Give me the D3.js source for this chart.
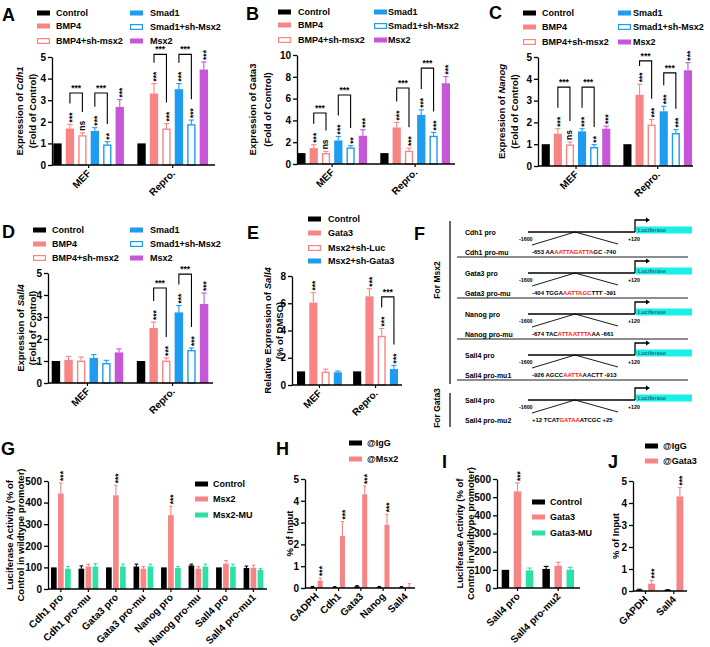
<!DOCTYPE html>
<html><head><meta charset="utf-8">
<script src="https://cdn.jsdelivr.net/npm/d3@7"></script>
<style>
body{margin:0;background:#fff}
svg{display:block}
text{font-family:"Liberation Sans",Arial,sans-serif;font-weight:bold;fill:#000}
</style>
</head><body>
<svg id="fig" width="710" height="647"></svg>
<script>
// ---------------- DATA ----------------
const groupsAD = ["MEF", "Repro."];
const seriesAD = ["Control", "BMP4", "BMP4+sh-msx2", "Smad1", "Smad1+sh-Msx2", "Msx2"];

const cdh1Mean = [[1, 1.69, 1.38, 1.58, 0.95, 2.69], [1, 3.31, 1.69, 3.51, 1.89, 4.42]];
const cdh1Err  = [[0, 0.19, 0.11, 0.15, 0.13, 0.34], [0, 0.46, 0.23, 0.26, 0.19, 0.35]];
const cdh1Sig  = [["", "***", "ns", "***", "**", "***"], ["", "***", "***", "***", "***", "***"]];
const cdh1Brackets = [[0, 1, 2, 3.33], [0, 3, 4, 3.33], [1, 1, 2, 5.12], [1, 3, 4, 5.12]];
const cdh1Ticks = [0, 1, 2, 3, 4, 5];

const gata3Mean = [[1, 1.46, 1.0, 2.16, 1.52, 2.59], [1, 3.35, 1.22, 4.51, 2.59, 7.41]];
const gata3Err  = [[0, 0.31, 0.16, 0.37, 0.16, 0.55], [0, 0.46, 0.24, 0.46, 0.31, 0.61]];
const gata3Sig  = [["", "***", "ns", "***", "**", "***"], ["", "***", "***", "***", "***", "***"]];
const gata3Brackets = [[0, 1, 2, 4.68], [0, 3, 4, 6.33], [1, 1, 2, 6.97], [1, 3, 4, 8.8]];
const gata3Ticks = [0, 2, 4, 6, 8, 10];

const nanogMean = [[1, 1.48, 0.99, 1.59, 0.87, 1.71], [1, 3.27, 1.9, 2.51, 1.51, 4.39]];
const nanogErr  = [[0, 0.23, 0.11, 0.12, 0.11, 0.12], [0, 0.48, 0.23, 0.23, 0.16, 0.35]];
const nanogSig  = [["", "***", "ns", "***", "**", "***"], ["", "***", "***", "***", "***", "***"]];
const nanogBrackets = [[0, 1, 2, 3.62], [0, 3, 4, 3.62], [1, 1, 2, 4.82], [1, 3, 4, 4.27]];
const nanogTicks = [0, 1, 2, 3, 4, 5];

const sall4Mean = [[1, 1.05, 1.02, 1.14, 0.91, 1.39], [1, 2.5, 1.02, 3.21, 1.5, 3.59]];
const sall4Err  = [[0, 0.16, 0.16, 0.15, 0.12, 0.16], [0, 0.27, 0.12, 0.31, 0.09, 0.5]];
const sall4Sig  = [["", "", "", "", "", ""], ["", "***", "***", "***", "***", "***"]];
const sall4Brackets = [[1, 1, 2, 4.32], [1, 3, 4, 4.95]];
const sall4Ticks = [0, 1, 2, 3, 4, 5];

const groupsE = ["MEF", "Repro."];
const seriesE = ["Control", "Gata3", "Msx2+sh-Luc", "Msx2+sh-Gata3"];
const eMean = [[1, 6.05, 0.98, 0.93], [1, 6.51, 3.61, 1.17]];
const eErr  = [[0, 0.73, 0.19, 0.09], [0, 0.56, 0.54, 0.27]];
const eSig  = [["", "***", "", ""], ["", "***", "***", "***"]];
const eBrackets = [[1, 2, 3, 6.47]];
const eTicks = [0, 2, 4, 6, 8];

const groupsG = ["Cdh1 pro", "Cdh1 pro-mu", "Gata3 pro", "Gata3 pro-mu", "Nanog pro", "Nanog pro-mu", "Sall4 pro", "Sall4 pro-mu1"];
const seriesG = ["Control", "Msx2", "Msx2-MU"];
const gMean = [[100, 442, 94], [94, 104, 104], [100, 434, 104], [104, 94, 104], [100, 342, 97], [109, 94, 104], [100, 117, 104], [97, 98, 88]];
const gErr  = [[0, 49, 10], [13, 11, 13], [0, 46, 11], [11, 10, 11], [0, 41, 7], [6, 10, 11], [0, 15, 11], [9, 12, 7]];
const gSig  = [["", "***", ""], ["", "", ""], ["", "***", ""], ["", "", ""], ["", "***", ""], ["", "", ""], ["", "", ""], ["", "", ""]];
const gTicks = [0, 100, 200, 300, 400, 500];

const groupsH = ["GADPH", "Cdh1", "Gata3", "Nanog", "Sall4"];
const seriesH = ["@IgG", "@Msx2"];
const hMean = [[0.05, 0.34], [0.04, 2.39], [0.08, 4.3], [0.05, 2.9], [0.04, 0.05]];
const hErr  = [[0.02, 0.12], [0.02, 0.66], [0.03, 0.38], [0.02, 0.48], [0.02, 0.15]];
const hSig  = [["", "***"], ["", "***"], ["", "***"], ["", "***"], ["", ""]];
const hTicks = [0, 1, 2, 3, 4, 5];

const groupsI = ["Sall4 pro", "Sall4 pro-mu2"];
const seriesI = ["Control", "Gata3", "Gata3-MU"];
const iMean = [[100, 532, 97], [105, 123, 101]];
const iErr  = [[0, 46, 13], [14, 18, 13]];
const iSig  = [["", "***", ""], ["", "", ""]];
const iTicks = [0, 100, 200, 300, 400, 500, 600];

const groupsJ = ["GAPDH", "Sall4"];
const seriesJ = ["@IgG", "@Gata3"];
const jMean = [[0.06, 0.33], [0.05, 4.3]];
const jErr  = [[0.02, 0.15], [0.01, 0.4]];
const jSig  = [["", "***"], ["", "***"]];
const jTicks = [0, 1, 2, 3, 4, 5];

// promoter diagram (panel F)
const fPro  = ["Cdh1 pro", "Gata3 pro", "Nanog pro", "Sall4 pro", "Sall4 pro"];
const fMu   = ["Cdh1 pro-mu", "Gata3 pro-mu", "Nanog pro-mu", "Sall4 pro-mu1", "Sall4 pro-mu2"];
const fPre  = ["-653 AA", "-404 TGGA", "-674 TAC", "-926 AGCC", "+12 TCAT"];
const fSite = ["AATTAGATTA", "AATTAGC", "ATTAATTTA", "AATTA", "GATAA"];
const fPost = ["GC -740", "TTT -391", "AA -661", "AACTT -913", "ATCGC +25"];
const fStart = "-1600", fEnd = "+120", fReporter = "Luciferase";
const fGroupLabels = ["For Msx2", "For Gata3"];

// ---------------- STYLES ----------------
const BLACK = "#000000", SALMON = "#f88585", BLUE = "#1e9cf0", PURPLE = "#c756d9", MINT = "#2de0a6";
const stylesAD = [{c: BLACK, f: 1}, {c: SALMON, f: 1}, {c: SALMON, f: 0}, {c: BLUE, f: 1}, {c: BLUE, f: 0}, {c: PURPLE, f: 1}];
const stylesE = [{c: BLACK, f: 1}, {c: SALMON, f: 1}, {c: SALMON, f: 0}, {c: BLUE, f: 1}];
const stylesGI = [{c: BLACK, f: 1}, {c: SALMON, f: 1}, {c: MINT, f: 1}];
const stylesHJ = [{c: BLACK, f: 1}, {c: SALMON, f: 1}];

const svg = d3.select("#fig");

function letter(t, x, y) {
  svg.append("text").attr("x", x).attr("y", y).attr("font-size", 18).text(t);
}

function drawLegend(names, styles, spec) {
  const g = svg.append("g");
  spec.forEach(([i, sx, tx, yc]) => {
    const st = styles[i];
    if (st.f) g.append("rect").attr("x", sx).attr("y", yc - 2.5).attr("width", 13).attr("height", 5).attr("fill", st.c);
    else g.append("rect").attr("x", sx + 0.6).attr("y", yc - 2.4).attr("width", 11.8).attr("height", 4.8)
      .attr("fill", "#fff").attr("stroke", st.c).attr("stroke-width", 1.2);
    g.append("text").attr("x", tx).attr("y", yc).attr("dy", "0.35em").attr("font-size", 9).text(names[i]);
  });
}

function drawBarPanel(p) {
  const g = svg.append("g");
  const x0 = d3.scaleBand().domain(p.categories).range(p.barsRange).paddingInner(p.groupPad).paddingOuter(0);
  const x1 = d3.scaleBand().domain(d3.range(p.series.length)).range([0, x0.bandwidth()]).paddingInner(p.barPad).paddingOuter(0);
  const y = d3.scaleLinear().domain(p.domain).range([p.yBottom, p.yTop]);
  const bw = x1.bandwidth();
  const items = [];
  p.categories.forEach((c, ci) => p.series.forEach((s, si) => {
    items.push({c, ci, si, v: p.mean[ci][si], e: p.err[ci][si], sig: p.sig[ci][si], st: p.styles[si],
      x: x0(c) + x1(si)});
  }));

  // bars
  g.selectAll("rect.bar").data(items).join("rect").attr("class", "bar")
    .attr("x", d => d.st.f ? d.x : d.x + 0.7)
    .attr("y", d => d.st.f ? y(d.v) : y(d.v) + 0.7)
    .attr("width", d => d.st.f ? bw : bw - 1.4)
    .attr("height", d => d.st.f ? y(0) - y(d.v) : Math.max(0, y(0) - y(d.v) - 0.7))
    .attr("fill", d => d.st.f ? d.st.c : "#fff")
    .attr("stroke", d => d.st.f ? "none" : d.st.c)
    .attr("stroke-width", 1.4);

  // error bars (upper only)
  const eb = items.filter(d => d.e > 0);
  g.selectAll("line.ev").data(eb).join("line").attr("class", "ev")
    .attr("x1", d => d.x + bw / 2).attr("x2", d => d.x + bw / 2)
    .attr("y1", d => y(d.v)).attr("y2", d => y(d.v + d.e))
    .attr("stroke", d => d.st.c).attr("stroke-width", 1.1);
  g.selectAll("line.ec").data(eb).join("line").attr("class", "ec")
    .attr("x1", d => d.x + bw * 0.18).attr("x2", d => d.x + bw * 0.82)
    .attr("y1", d => y(d.v + d.e)).attr("y2", d => y(d.v + d.e))
    .attr("stroke", d => d.st.c).attr("stroke-width", 1.1);

  // significance (rotated)
  const sigs = items.filter(d => d.sig);
  const starTop = {};
  g.selectAll("text.sig").data(sigs).join("text").attr("class", "sig")
    .attr("font-size", 8.5)
    .attr("text-anchor", "start")
    .attr("transform", d => `translate(${d.x + bw / 2},${y(d.v + d.e) - 2}) rotate(-90)`)
    .attr("dy", d => d.sig === "ns" ? "0.27em" : "0.6em")
    .text(d => d.sig)
    .each(function (d) { starTop[d.ci + "_" + d.si] = y(d.v + d.e) - 2 - this.getComputedTextLength(); });

  // brackets
  (p.brackets || []).forEach(([ci, sa, sb, lvl]) => {
    const c = p.categories[ci];
    const xa = x0(c) + x1(sa) + bw / 2, xb = x0(c) + x1(sb) + bw / 2;
    const yt = y(lvl);
    const la = Math.max(yt + 5, (starTop[ci + "_" + sa] ?? y(p.mean[ci][sa] + p.err[ci][sa])) - 9);
    const lb = Math.max(yt + 5, (starTop[ci + "_" + sb] ?? y(p.mean[ci][sb] + p.err[ci][sb])) - 9);
    g.append("path").attr("d", `M${xa},${la}V${yt}H${xb}V${lb}`).attr("fill", "none")
      .attr("stroke", "#000").attr("stroke-width", 1.1);
    g.append("text").attr("x", (xa + xb) / 2).attr("y", yt - 2).attr("text-anchor", "middle")
      .attr("font-size", 8.5).text("***");
  });

  // y axis
  const ya = g.append("g").attr("transform", `translate(${p.axisX[0]},0)`)
    .call(d3.axisLeft(y).tickValues(p.ticks).tickFormat(d3.format("d")).tickSize(4).tickPadding(2).tickSizeOuter(0));
  ya.select(".domain").attr("stroke-width", 1.3);
  ya.selectAll(".tick line").attr("stroke-width", 1.3);
  ya.selectAll(".tick text").attr("font-size", 10).attr("font-family", "Liberation Sans, Arial, sans-serif").attr("font-weight", "bold");

  // x axis
  const xa = g.append("g").attr("transform", `translate(0,${p.yBottom})`)
    .call(d3.axisBottom(x0).tickSize(3).tickSizeOuter(0));
  xa.select(".domain").remove();
  xa.append("line").attr("x1", p.axisX[0]).attr("x2", p.axisX[1]).attr("stroke", "#000").attr("stroke-width", 1.3);
  xa.selectAll(".tick line").attr("stroke-width", 1.2);
  xa.selectAll(".tick text").attr("font-size", 10).attr("font-family", "Liberation Sans, Arial, sans-serif").attr("font-weight", "bold")
    .attr("text-anchor", "end").attr("y", 0).attr("dy", 0)
    .attr("transform", "translate(3,9) rotate(-45)");

  // y title
  const cy = (p.yTop + p.yBottom) / 2 + (p.titleShift || 0);
  p.title.forEach((line, li) => {
    const t = svg.append("text").attr("text-anchor", "middle").attr("font-size", 9.5)
      .attr("transform", `translate(${p.titleX[li]},${cy}) rotate(-90)`).attr("dy", "0.35em");
    line.forEach(([s, it]) => t.append("tspan").attr("font-style", it ? "italic" : "normal").text(s));
  });
}

// ---------------- PANELS ----------------
letter("A", 2, 21); letter("B", 246, 20); letter("C", 489, 19);
letter("D", 2, 238); letter("E", 247, 239); letter("F", 414, 240);
letter("G", 1, 455); letter("H", 276, 455); letter("I", 442, 468); letter("J", 608, 468);

const titleExpr = g => [[["Expression of ", 0], [g, 1]], [["(Fold of Control)", 0]]];

drawBarPanel({categories: groupsAD, series: seriesAD, styles: stylesAD, mean: cdh1Mean, err: cdh1Err, sig: cdh1Sig,
  brackets: cdh1Brackets, barsRange: [53.3, 208], groupPad: 0.16, barPad: 0.33, axisX: [52, 215],
  yTop: 57, yBottom: 165, domain: [0, 5], ticks: cdh1Ticks, title: titleExpr("Cdh1"), titleX: [20, 33]});
drawLegend(seriesAD, stylesAD, [[0, 37, 56, 13], [1, 37, 56, 26], [2, 37, 56, 41], [3, 130, 150, 13], [4, 130, 150, 27], [5, 130, 150, 41]]);

drawBarPanel({categories: groupsAD, series: seriesAD, styles: stylesAD, mean: gata3Mean, err: gata3Err, sig: gata3Sig,
  brackets: gata3Brackets, barsRange: [297.3, 450], groupPad: 0.16, barPad: 0.33, axisX: [297, 455],
  yTop: 55, yBottom: 164, domain: [0, 10], ticks: gata3Ticks, title: [[["Expression of Gata3", 0]], [["(Fold of Control)", 0]]], titleX: [253, 268]});
drawLegend(seriesAD, stylesAD, [[0, 278, 298, 12], [1, 278, 298, 25], [2, 278, 298, 40], [3, 374, 388, 12], [4, 374, 388, 26], [5, 374, 388, 40]]);

drawBarPanel({categories: groupsAD, series: seriesAD, styles: stylesAD, mean: nanogMean, err: nanogErr, sig: nanogSig,
  brackets: nanogBrackets, barsRange: [541.7, 692], groupPad: 0.16, barPad: 0.33, axisX: [538, 693],
  yTop: 57, yBottom: 166, domain: [0, 5], ticks: nanogTicks, title: titleExpr("Nanog"), titleX: [502, 515]});
drawLegend(seriesAD, stylesAD, [[0, 523, 542, 13], [1, 523, 542, 27], [2, 523, 542, 42], [3, 618, 633, 13], [4, 618, 633, 27], [5, 618, 633, 42]]);

drawBarPanel({categories: groupsAD, series: seriesAD, styles: stylesAD, mean: sall4Mean, err: sall4Err, sig: sall4Sig,
  brackets: sall4Brackets, barsRange: [51.7, 208.3], groupPad: 0.16, barPad: 0.33, axisX: [48, 213],
  yTop: 273, yBottom: 383, domain: [0, 5], ticks: sall4Ticks, title: titleExpr("Sall4"), titleX: [21, 33]});
drawLegend(seriesAD, stylesAD, [[0, 33, 52, 230], [1, 33, 52, 244], [2, 33, 52, 258], [3, 130, 150, 230], [4, 130, 150, 244], [5, 130, 150, 258]]);

drawBarPanel({categories: groupsE, series: seriesE, styles: stylesE, mean: eMean, err: eErr, sig: eSig,
  brackets: eBrackets, barsRange: [297, 398], groupPad: 0.2, barPad: 0.34, axisX: [292, 402],
  yTop: 276, yBottom: 385, domain: [0, 8], ticks: eTicks,
  title: [[["Relative Expression of ", 0], ["Sall4", 1]], [["(% of DMSO)", 0]]], titleX: [268, 280]});
drawLegend(seriesE, stylesE, [[0, 308, 328, 219], [1, 308, 328, 233], [2, 308, 328, 248], [3, 308, 328, 261]]);

drawBarPanel({categories: groupsG, series: seriesG, styles: stylesGI, mean: gMean, err: gErr, sig: gSig,
  brackets: [], barsRange: [51, 263.3], groupPad: 0.284, barPad: 0.19, axisX: [48, 267],
  yTop: 481, yBottom: 589, domain: [0, 500], ticks: gTicks,
  title: [[["Luciferase Activity (% of", 0]], [["Control in wildtype promoter)", 0]]], titleX: [10, 21]});
drawLegend(seriesG, stylesGI, [[0, 195, 213, 484], [1, 195, 213, 499], [2, 195, 213, 515]]);

drawBarPanel({categories: groupsH, series: seriesH, styles: stylesHJ, mean: hMean, err: hErr, sig: hSig,
  brackets: [], barsRange: [310, 411.7], groupPad: 0.43, barPad: 0.35, axisX: [305, 415],
  yTop: 479, yBottom: 588, domain: [0, 5], ticks: hTicks, title: [[["% of Input", 0]]], titleX: [290]});
drawLegend(seriesH, stylesHJ, [[0, 349, 367, 443], [1, 349, 367, 459]]);

drawBarPanel({categories: groupsI, series: seriesI, styles: stylesGI, mean: iMean, err: iErr, sig: iSig,
  brackets: [], barsRange: [501.7, 574], groupPad: 0.224, barPad: 0.38, axisX: [497, 580],
  yTop: 479, yBottom: 588, domain: [0, 600], ticks: iTicks,
  title: [[["Luciferase Activity (% of", 0]], [["Control in wildtype promoter)", 0]]], titleX: [460, 471]});
drawLegend(seriesI, stylesGI, [[0, 532, 550, 502], [1, 532, 550, 517], [2, 532, 550, 533]]);

drawBarPanel({categories: groupsJ, series: seriesJ, styles: stylesHJ, mean: jMean, err: jErr, sig: jSig,
  brackets: [], barsRange: [636, 683.3], groupPad: 0.33, barPad: 0.44, axisX: [633, 687],
  yTop: 481, yBottom: 591, domain: [0, 5], ticks: jTicks, title: [[["% of Input", 0]]], titleX: [616]});
drawLegend(seriesJ, stylesHJ, [[0, 645, 663, 446], [1, 645, 663, 461]]);

// ---------------- PANEL F (promoter constructs) ----------------
(function () {
  const g = svg.append("g");
  const lineY = [232, 273, 314, 355, 400];
  const xs = d3.scaleLinear().domain([-1600, 120]).range([528, 635]);
  fPro.forEach((lab, i) => {
    const L = lineY[i];
    g.append("text").attr("x", 465).attr("y", L + 2.5).attr("font-size", 7).text(lab);
    g.append("text").attr("x", 465).attr("y", L + 22.5).attr("font-size", 7).text(fMu[i]);
    g.append("line").attr("x1", xs(-1600)).attr("x2", xs(120)).attr("y1", L).attr("y2", L).attr("stroke", "#000").attr("stroke-width", 1.5);
    g.append("path").attr("d", `M${xs(120)},${L}V${L - 12}H${xs(120) + 12}`).attr("fill", "none").attr("stroke", "#000").attr("stroke-width", 1.3);
    g.append("path").attr("d", `M${xs(120) + 15},${L - 12}l-4,-2.6v5.2z`).attr("fill", "#000");
    g.append("rect").attr("x", xs(120) + 1).attr("y", L - 5.5).attr("width", 56).attr("height", 7).attr("fill", "#19f0ea");
    g.append("text").attr("x", xs(120) + 3).attr("y", L - 0.2).attr("font-size", 5.6).style("fill", "#1f6f78").text(fReporter);
    g.append("text").attr("x", 519).attr("y", L + 9).attr("font-size", 5.3).text(fStart);
    g.append("text").attr("x", 628).attr("y", L + 9).attr("font-size", 5.3).text(fEnd);
    g.append("path").attr("d", `M532,${L + 13}L575,${L}L618,${L + 12}`).attr("fill", "none").attr("stroke", "#000").attr("stroke-width", 0.9);
    const t = g.append("text").attr("x", 532).attr("y", L + 21.5).attr("font-size", 6);
    t.append("tspan").text(fPre[i]);
    t.append("tspan").style("fill", "#ff2020").text(fSite[i]);
    t.append("tspan").text(fPost[i]);
    if (i < 4) g.append("line").attr("x1", 457).attr("x2", 688).attr("y1", L + 25).attr("y2", L + 25).attr("stroke", "#000").attr("stroke-width", 0.9);
  });
  g.append("line").attr("x1", 450).attr("x2", 450).attr("y1", 221).attr("y2", 384).attr("stroke", "#000").attr("stroke-width", 1.2);
  g.append("line").attr("x1", 450).attr("x2", 450).attr("y1", 393).attr("y2", 427).attr("stroke", "#000").attr("stroke-width", 1.2);
  g.append("text").attr("transform", "translate(437,280) rotate(-90)").attr("text-anchor", "middle").attr("dy", "0.35em").attr("font-size", 8.5).text(fGroupLabels[0]);
  g.append("text").attr("transform", "translate(437,408) rotate(-90)").attr("text-anchor", "middle").attr("dy", "0.35em").attr("font-size", 8.5).text(fGroupLabels[1]);
})();
</script>
</body></html>
